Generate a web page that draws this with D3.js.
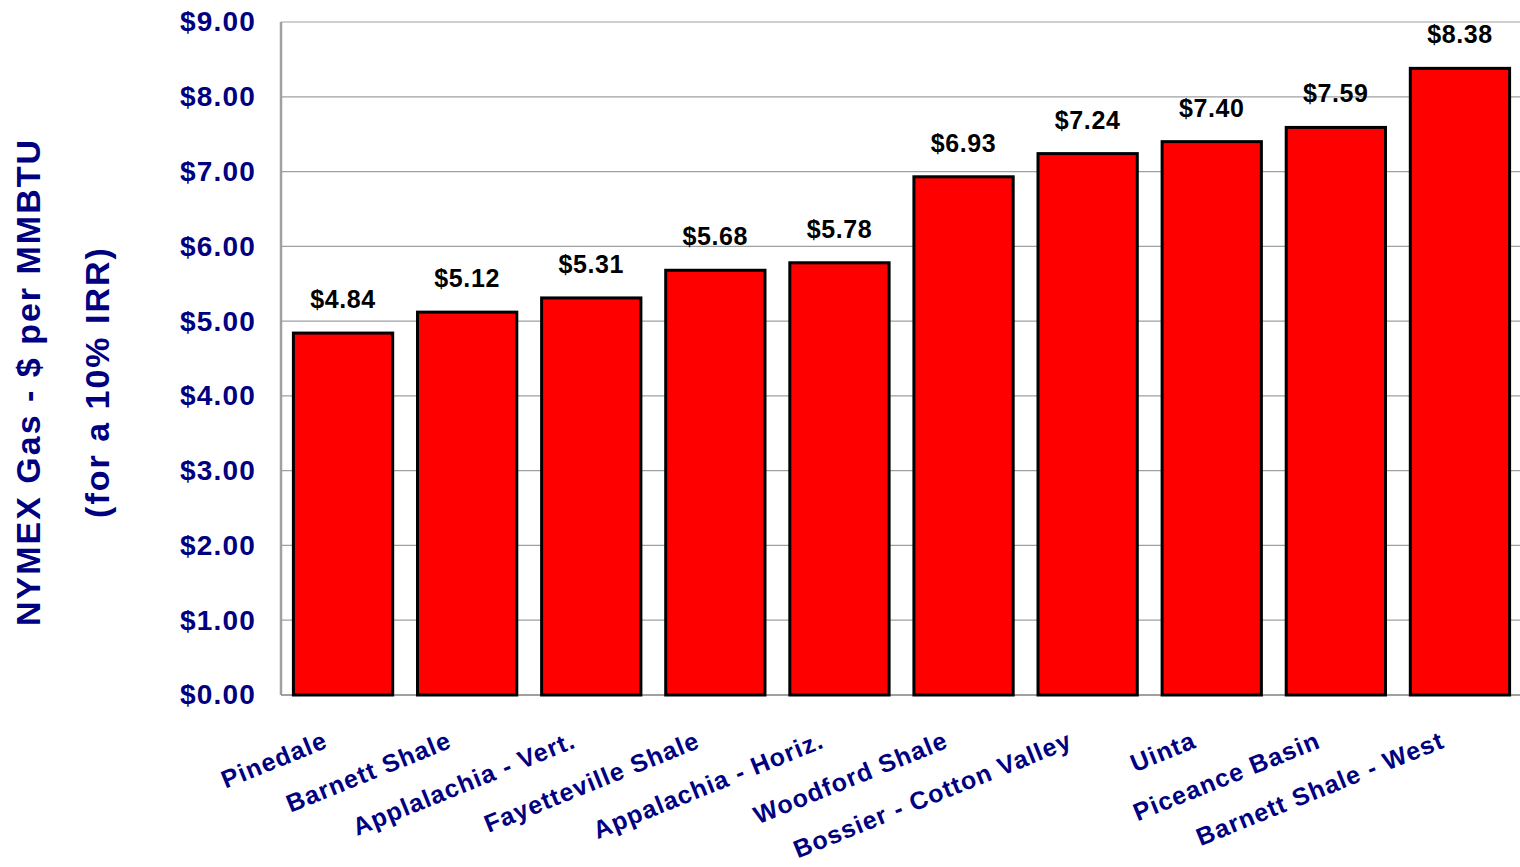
<!DOCTYPE html>
<html>
<head>
<meta charset="utf-8">
<script src="https://cdn.jsdelivr.net/npm/d3@7"></script>
<style>
  body { margin: 0; background: #fff; }
  svg text { font-family: "Liberation Sans", Arial, sans-serif; font-weight: bold; }
</style>
</head>
<body>
<div id="chart"></div>
<script>
// data
var plays = ["Pinedale", "Barnett Shale", "Applalachia - Vert.", "Fayetteville Shale",
             "Appalachia - Horiz.", "Woodford Shale", "Bossier - Cotton Valley",
             "Uinta", "Piceance Basin", "Barnett Shale - West"];
var prices = [4.84, 5.12, 5.31, 5.68, 5.78, 6.93, 7.24, 7.40, 7.59, 8.38];
var yTicks = [0, 1, 2, 3, 4, 5, 6, 7, 8, 9];

var W = 1520, H = 867;
var margin = {top: 22, right: -2, bottom: 172, left: 281};
var navy = "#000080";

var svg = d3.select("#chart").append("svg")
  .attr("width", W).attr("height", H);

var x = d3.scaleBand()
  .domain(plays)
  .range([margin.left, W - margin.right])
  .paddingInner(0.2).paddingOuter(0.1);

var y = d3.scaleLinear()
  .domain([0, 9])
  .range([H - margin.bottom, margin.top]);

// gridlines
svg.append("g").selectAll("line")
  .data(yTicks)
  .join("line")
  .attr("x1", margin.left).attr("x2", W)
  .attr("y1", function(d) { return y(d); })
  .attr("y2", function(d) { return y(d); })
  .attr("stroke", "#a0a0a0")
  .attr("stroke-width", function(d) { return d == 0 ? 2 : 1.2; });

// left frame
svg.append("line")
  .attr("x1", margin.left).attr("x2", margin.left)
  .attr("y1", y(9)).attr("y2", y(0))
  .attr("stroke", "#a0a0a0").attr("stroke-width", 2.5);

// y axis labels
var yAxis = d3.axisLeft(y).tickValues(yTicks)
  .tickFormat(function(d) { return "$" + d3.format(".2f")(d); })
  .tickSize(0).tickPadding(25);
var ya = svg.append("g")
  .attr("transform", "translate(" + margin.left + ",0)")
  .call(yAxis);
ya.select(".domain").remove();
ya.selectAll("text")
  .attr("fill", navy)
  .style("font-size", "28px")
  .style("letter-spacing", "1.2px");

// bars
svg.append("g").selectAll("rect")
  .data(prices)
  .join("rect")
  .attr("x", function(d, i) { return x(plays[i]); })
  .attr("y", function(d) { return y(d); })
  .attr("width", x.bandwidth())
  .attr("height", function(d) { return y(0) - y(d); })
  .attr("fill", "#ff0000")
  .attr("stroke", "#000")
  .attr("stroke-width", 3);

// value labels
svg.append("g").selectAll("text")
  .data(prices)
  .join("text")
  .attr("x", function(d, i) { return x(plays[i]) + x.bandwidth() / 2; })
  .attr("y", function(d) { return y(d) - 25; })
  .attr("text-anchor", "middle")
  .attr("fill", "#000")
  .style("font-size", "25px")
  .style("letter-spacing", "0.6px")
  .text(function(d) { return "$" + d3.format(".2f")(d); });

// category labels
svg.append("g").selectAll("text")
  .data(plays)
  .join("text")
  .attr("transform", function(d) {
    var cx = x(d) + x.bandwidth() / 2 - 14;
    return "translate(" + cx + "," + (y(0) + 52) + ") rotate(-22)";
  })
  .attr("text-anchor", "end")
  .attr("fill", navy)
  .style("font-size", "25px")
  .style("letter-spacing", "1.1px")
  .text(function(d) { return d; });

// y title
var title = svg.append("g")
  .attr("transform", "translate(28,382) rotate(-90)");
title.append("text")
  .attr("text-anchor", "middle")
  .attr("dy", "0.35em")
  .attr("fill", navy)
  .style("font-size", "34px")
  .style("letter-spacing", "2px")
  .text("NYMEX Gas - $ per MMBTU");
title.append("text")
  .attr("text-anchor", "middle")
  .attr("y", 69)
  .attr("dy", "0.35em")
  .attr("fill", navy)
  .style("font-size", "34px")
  .style("letter-spacing", "2px")
  .text("(for a 10% IRR)");
</script>
</body>
</html>
